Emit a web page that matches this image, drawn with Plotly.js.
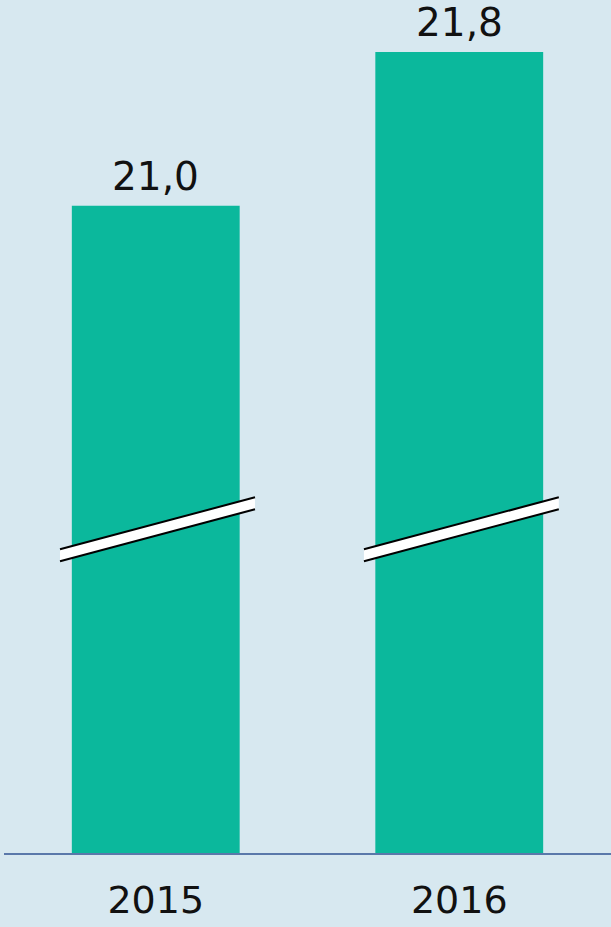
<!DOCTYPE html>
<html>
<head>
<meta charset="utf-8">
<script src="https://cdn.plot.ly/plotly-3.0.1.min.js"></script>
<style>html,body{margin:0;padding:0;background:#d7e8f0;}#chart{width:611px;height:927px;}</style>
</head>
<body>
<div id="chart"></div>
<script>
const years = ['2015', '2016'];
const values = [21.0, 21.8];

const fmt = v => v.toFixed(1).replace('.', ',');

const trace = {
  type: 'bar',
  x: years,
  y: values,
  marker: {color: '#0bb89c'},
  hoverinfo: 'skip'
};

const annotations = years.map((yr, i) => ({
  x: i, y: values[i], xref: 'x', yref: 'y',
  text: fmt(values[i]), showarrow: false,
  yanchor: 'bottom', yshift: 5,
  font: {family: 'DejaVu Sans', size: 39, color: '#111111'}
}));

// axis-break decoration (white band with black edges) across each bar
const breaks = [[0.0923, 0.4135], [0.593, 0.914]];
const shapes = [];
breaks.forEach(([x0, x1]) => {
  shapes.push({type: 'path', xref: 'paper', yref: 'paper',
    path: `M ${x0} 0.342 L ${x1} 0.403 L ${x1} 0.417 L ${x0} 0.356 Z`,
    fillcolor: '#ffffff', line: {width: 0}});
  shapes.push({type: 'line', xref: 'paper', yref: 'paper', x0: x0, y0: 0.342, x1: x1, y1: 0.403,
    line: {color: '#000000', width: 2}});
  shapes.push({type: 'line', xref: 'paper', yref: 'paper', x0: x0, y0: 0.356, x1: x1, y1: 0.417,
    line: {color: '#000000', width: 2}});
});

const layout = {
  width: 611, height: 927,
  margin: {l: 4, r: 0, t: 0, b: 74},
  paper_bgcolor: '#d7e8f0',
  plot_bgcolor: '#d7e8f0',
  bargap: 0.447,
  showlegend: false,
  xaxis: {
    type: 'category',
    range: [-0.5, 1.5], autorange: false,
    showline: true, linecolor: '#5a78aa', linewidth: 2,
    ticks: '', ticklabelstandoff: 12,
    tickfont: {family: 'DejaVu Sans', size: 38, color: '#111111'},
    fixedrange: true
  },
  yaxis: {
    range: [17.635, 22.07], autorange: false,
    visible: false, showgrid: false, zeroline: false,
    fixedrange: true
  },
  shapes: shapes,
  annotations: annotations
};

Plotly.newPlot('chart', [trace], layout, {displayModeBar: false, staticPlot: true});
</script>
</body>
</html>
